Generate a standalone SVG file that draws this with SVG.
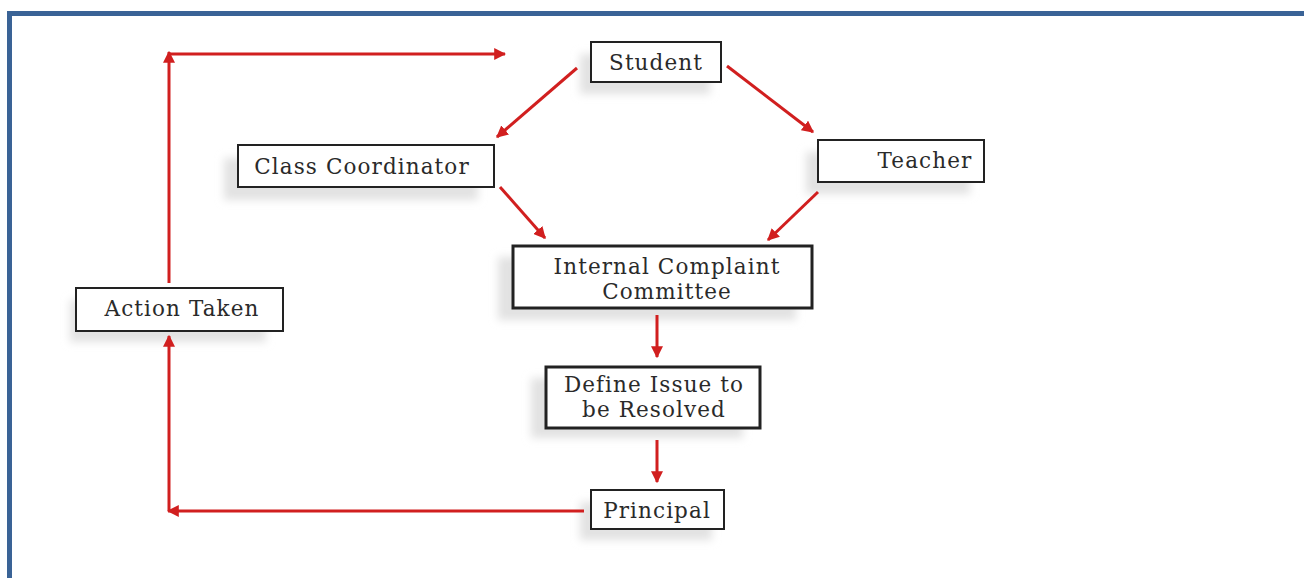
<svg xmlns="http://www.w3.org/2000/svg" width="1304" height="578" viewBox="0 0 1304 578">
<style>
.box{fill:#fff;stroke:#222;stroke-width:2}
.thick{stroke-width:3}
.sh{fill:#e2e2e2;filter:url(#blur)}
.t{font-family:"DejaVu Serif","Liberation Serif",serif;font-size:21.5px;letter-spacing:1.1px;fill:#2a2a2a;text-anchor:middle}
.c{fill:none;stroke:#d11f1f;stroke-width:3}
</style>
<defs>
<filter id="blur" x="-20%" y="-50%" width="140%" height="200%"><feGaussianBlur stdDeviation="4"/></filter>
<marker id="ah" viewBox="0 0 10 10" refX="9" refY="5" markerWidth="4" markerHeight="4" orient="auto" markerUnits="strokeWidth">
<path d="M0,0 L10,5 L0,10 z" fill="#d11f1f"/>
</marker>
</defs>
<rect x="0" y="0" width="1304" height="578" fill="#fff"/>
<rect x="9.5" y="13.5" width="1310" height="580" fill="none" stroke="#3a6396" stroke-width="5"/>
<g id="student">
<rect class="sh" x="580" y="54" width="130" height="40"/>
<rect class="box" x="591" y="42" width="130" height="40"/>
<text class="t" x="656" y="70">Student</text>
</g>
<g id="class-coordinator">
<rect class="sh" x="224" y="158" width="254" height="42"/>
<rect class="box" x="238" y="145" width="256" height="42"/>
<text class="t" x="362" y="174">Class Coordinator</text>
</g>
<g id="teacher">
<rect class="sh" x="806" y="152" width="164" height="42"/>
<rect class="box" x="818" y="140" width="166" height="42"/>
<text class="t" x="925" y="168">Teacher</text>
</g>
<g id="icc">
<rect class="sh" x="498" y="257" width="298" height="63"/>
<rect class="box thick" x="513" y="246" width="299" height="62"/>
<text class="t" x="667" y="274">Internal Complaint</text>
<text class="t" x="667" y="299">Committee</text>
</g>
<g id="define-issue">
<rect class="sh" x="531" y="378" width="212" height="60"/>
<rect class="box thick" x="546" y="367" width="214" height="61"/>
<text class="t" x="654" y="392">Define Issue to</text>
<text class="t" x="654" y="417">be Resolved</text>
</g>
<g id="action-taken">
<rect class="sh" x="70" y="300" width="196" height="42"/>
<rect class="box" x="76" y="288" width="207" height="43"/>
<text class="t" x="182" y="316">Action Taken</text>
</g>
<g id="principal">
<rect class="sh" x="580" y="502" width="132" height="38"/>
<rect class="box" x="591" y="490" width="133" height="39"/>
<text class="t" x="657" y="518">Principal</text>
</g>
<g id="connectors">
<path class="c" d="M169,283 V52" marker-end="url(#ah)"/>
<path class="c" d="M169,54 H505" marker-end="url(#ah)"/>
<path class="c" d="M577,68 L497,137" marker-end="url(#ah)"/>
<path class="c" d="M727,66 L813,132" marker-end="url(#ah)"/>
<path class="c" d="M500,187 L545,238" marker-end="url(#ah)"/>
<path class="c" d="M818,192 L768,240" marker-end="url(#ah)"/>
<path class="c" d="M657,315 V357" marker-end="url(#ah)"/>
<path class="c" d="M657,440 V482" marker-end="url(#ah)"/>
<path class="c" d="M584,511 H168" marker-end="url(#ah)"/>
<path class="c" d="M169,511 V336" marker-end="url(#ah)"/>
</g>
</svg>
